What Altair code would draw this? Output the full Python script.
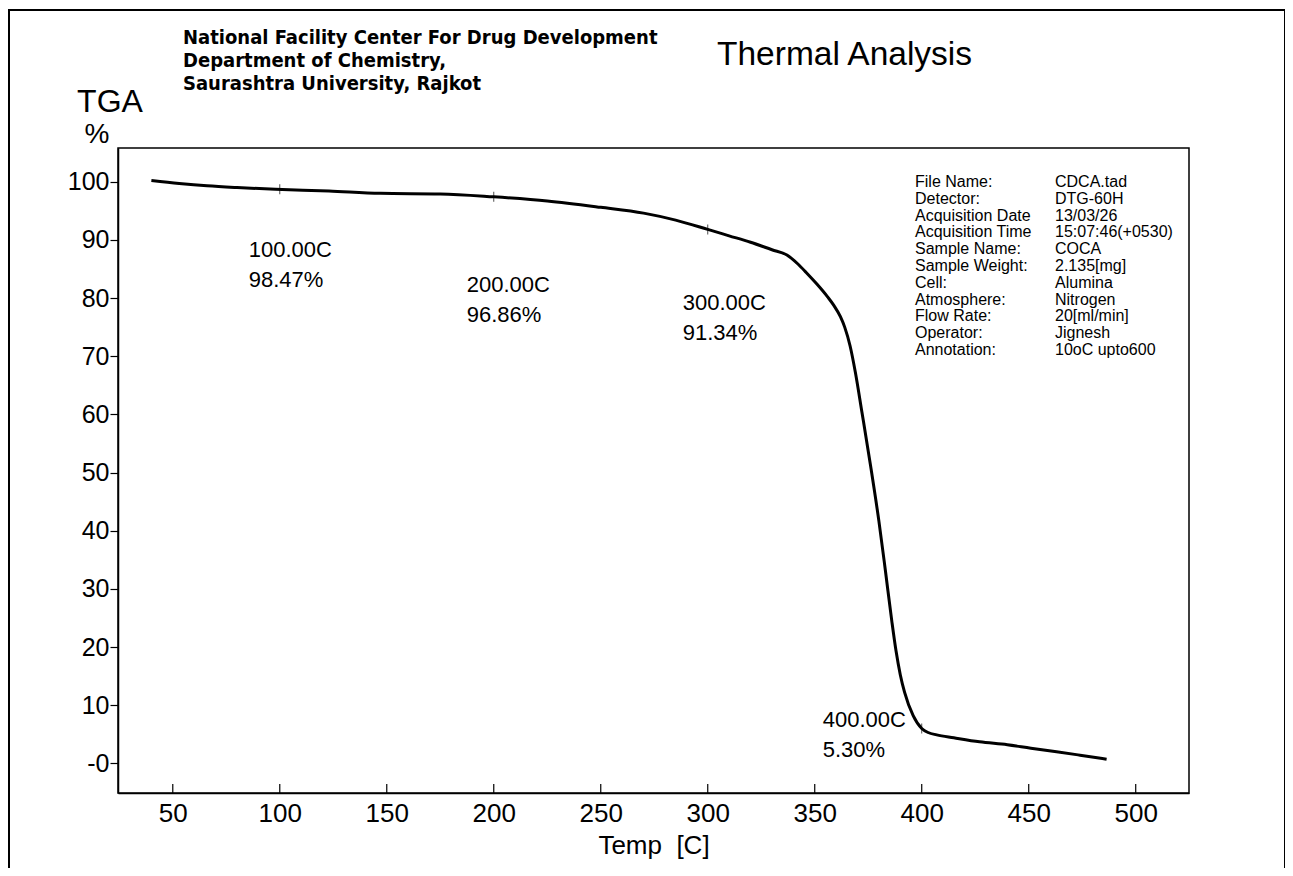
import altair as alt
import pandas as pd

# ---- curve data ----
temps = [40, 53, 66, 80, 98, 123, 147, 175, 200, 225, 250, 270, 285, 300,
         310, 320, 330, 337, 342, 346, 351, 356, 359, 362, 364, 366.5, 369, 372, 376, 380, 383,
         386, 388, 390, 392, 396, 400, 403, 407, 415, 427, 440, 451, 463, 474, 486.4]
tga = [100.2, 99.7, 99.3, 99.0, 98.7, 98.4, 98.0, 97.9, 97.4, 96.7, 95.6, 94.6, 93.4, 91.8,
       90.7, 89.6, 88.3, 87.4, 85.9, 84.4, 82.4, 80.2, 78.7, 76.8, 75.0, 71.8, 67.2, 60.5, 51.4, 41.6, 33.2,
       24.5, 19.3, 15.2, 12.2, 8.2, 6.0, 5.3, 4.9, 4.4, 3.7, 3.2, 2.6, 2.0, 1.4, 0.7]

mark_temps = [100, 200, 300, 400]
mark_tga = [98.7, 97.4, 91.8, 6.0]
mark_temp_labels = ["100.00C", "200.00C", "300.00C", "400.00C"]
mark_pct_labels = ["98.47%", "96.86%", "91.34%", "5.30%"]

x_ticks = [50, 100, 150, 200, 250, 300, 350, 400, 450, 500]
y_ticks = [0, 10, 20, 30, 40, 50, 60, 70, 80, 90, 100]

header_lines = ["National Facility Center For Drug Development",
                "Department of Chemistry,",
                "Saurashtra University, Rajkot"]
plot_title = "Thermal Analysis"
y_title_top = "TGA"
y_title_unit = "%"
x_title = "Temp\u00a0\u00a0[C]"

info_keys = ["File Name:", "Detector:", "Acquisition Date", "Acquisition Time", "Sample Name:",
             "Sample Weight:", "Cell:", "Atmosphere:", "Flow Rate:", "Operator:", "Annotation:"]
info_vals = ["CDCA.tad", "DTG-60H", "13/03/26", "15:07:46(+0530)", "COCA",
             "2.135[mg]", "Alumina", "Nitrogen", "20[ml/min]", "Jignesh", "10oC upto600"]

# ---- layout / style ----
W, H = 1071, 645
FONT = "Liberation Sans"
xscale = alt.Scale(domain=[24.4, 524.9], nice=False, zero=False)
yscale = alt.Scale(domain=[-5.1, 105.8], nice=False, zero=False)

xaxis = alt.Axis(values=x_ticks, ticks=False, grid=False, title=x_title,
                 labelFontSize=26, labelPadding=7, labelColor="black",
                 labelFont=FONT, titleFont=FONT, titleFontSize=26,
                 titleFontWeight="normal", titleColor="black", titlePadding=6,
                 domainColor="black", domainWidth=1.5)
yaxis = alt.Axis(values=y_ticks, grid=False, title=None,
                 labelExpr="datum.value == 0 ? '-0' : datum.label",
                 labelFontSize=25, labelPadding=1, labelColor="black",
                 labelFont=FONT, tickSize=8, tickColor="black", tickWidth=1.2,
                 domainColor="black", domainWidth=1.5)

df = pd.DataFrame({"temp": temps, "tga": tga})
mk = pd.DataFrame({"temp": mark_temps, "tga": mark_tga,
                   "tlab": mark_temp_labels, "plab": mark_pct_labels})
xt = pd.DataFrame({"temp": x_ticks})
one = pd.DataFrame({"a": [0]})

X = alt.X("temp:Q", scale=xscale, axis=xaxis)
Y = alt.Y("tga:Q", scale=yscale, axis=yaxis)

curve = alt.Chart(df).mark_line(color="black", strokeWidth=3, interpolate="monotone").encode(x=X, y=Y)

xticks_in = alt.Chart(xt).mark_rule(color="black", strokeWidth=1.2).encode(
    x=X, y=alt.value(H), y2=alt.value(H - 9),
)

curve_ticks = alt.Chart(mk).mark_tick(orient="vertical", color="black", size=10, thickness=1).encode(
    x=X, y=Y,
)

offsets = [(-31, 61), (-27, 88), (-25, 74), (-99, -8)]
ann_layers = []
for i, (dx, dy) in enumerate(offsets):
    sub = mk.iloc[[i]]
    for field, extra in (("tlab", 0), ("plab", 30)):
        ann_layers.append(
            alt.Chart(sub).mark_text(align="left", baseline="middle", dx=dx, dy=dy + extra,
                                     fontSize=22, font=FONT, color="black").encode(
                x=X, y=Y, text=f"{field}:N",
            )
        )

header = alt.Chart(one).mark_text(
    text=header_lines, align="left", baseline="middle", lineHeight=23,
    font="Liberation Sans Narrow, DejaVu Sans Condensed, sans-serif", fontWeight="bold",
    fontSize=20, color="black").encode(x=alt.value(65), y=alt.value(-110))

title = alt.Chart(one).mark_text(
    text=plot_title, align="left", baseline="middle", font=FONT, fontSize=33.5,
    color="black").encode(x=alt.value(599), y=alt.value(-93))

ytitle = alt.Chart(one).mark_text(
    text=y_title_top, align="center", baseline="middle", font=FONT, fontSize=32,
    color="black").encode(x=alt.value(-8), y=alt.value(-46))
yunit = alt.Chart(one).mark_text(
    text=y_title_unit, align="center", baseline="middle", font=FONT, fontSize=28,
    color="black").encode(x=alt.value(-21), y=alt.value(-13))

info_k = alt.Chart(one).mark_text(
    text=info_keys, align="left", baseline="middle", lineHeight=16.8, font=FONT, fontSize=16,
    color="black").encode(x=alt.value(797), y=alt.value(34))
info_v = alt.Chart(one).mark_text(
    text=info_vals, align="left", baseline="middle", lineHeight=16.8, font=FONT, fontSize=16,
    color="black").encode(x=alt.value(937), y=alt.value(34))

border = alt.Chart(one).mark_rect(filled=False, stroke="black", strokeWidth=2).encode(
    x=alt.value(-109), x2=alt.value(1167), y=alt.value(-138), y2=alt.value(760))

chart = alt.layer(
    border, curve, xticks_in, curve_ticks, *ann_layers, header, title, ytitle, yunit, info_k, info_v
).properties(
    width=W, height=H,
    autosize=alt.AutoSizeParams(type="none"),
    padding={"left": 110, "top": 140, "right": 96, "bottom": 75},
    background="white",
).configure_view(stroke="black", strokeWidth=1.5)

chart.save("out.html", embed_options={"renderer": "svg", "actions": False})
